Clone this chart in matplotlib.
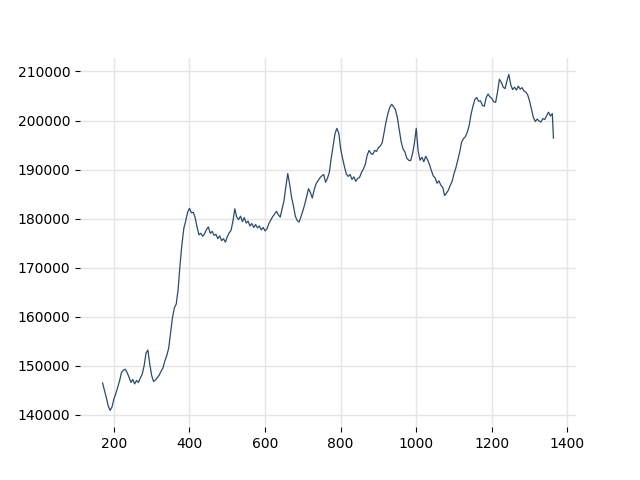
import matplotlib
matplotlib.use("Agg")
from matplotlib import pyplot as plt

# sample positions (every 5 units) plus the final point
x_vals = list(range(170, 1361, 5)) + [1363]

y_vals = [
    146500, 145000, 143500, 141800, 140900, 141600, 143200, 144300, 145600, 146900,
    148600, 149100, 149300, 148600, 147700, 146600, 147200, 146300, 147000, 146600,
    147500, 148300, 150000, 152600, 153200, 150300, 148000, 146800, 147100, 147600,
    148100, 148900, 149600, 151000, 152100, 153600, 156700, 159800, 161800, 162600,
    165600, 170600, 174700, 178000, 179500, 181300, 182100, 181200, 181300, 180200,
    178300, 176700, 177000, 176400, 176900, 177800, 178300, 177000, 177400, 176600,
    176800, 175900, 176500, 175500, 175900, 175200, 176300, 177100, 177600, 179500,
    182000, 180300, 179800, 180500, 179400, 180200, 179100, 179500, 178500, 179000,
    178200, 178800, 178100, 178500, 177700, 178200, 177500, 177900, 179000, 179700,
    180400, 180900, 181500, 180800, 180300, 182000, 183600, 186500, 189200, 187000,
    184400, 182600, 180500, 179600, 179300, 180400, 181600, 182900, 184500, 186100,
    185300, 184200, 185900, 187100, 187700, 188300, 188700, 189000, 187400, 188200,
    189400, 192300, 194800, 197300, 198400, 197400, 194200, 192300, 190600, 189100,
    188600, 189000, 188000, 188500, 187600, 188200, 188400, 189400, 190100, 191000,
    192900, 193900, 193300, 193100, 193900, 193700, 194500, 194800, 195500, 197600,
    199700, 201400, 202700, 203300, 202800, 202200, 200600, 198100, 195700, 194200,
    193600, 192300, 191900, 191800, 193200, 195300, 198400, 193800, 191900, 192500,
    191600, 192700, 192000, 191000, 189800, 188700, 188300, 187200, 187700, 186800,
    186400, 184700, 185200, 185800, 186800, 187600, 189200, 190400, 192000, 193600,
    195600, 196300, 196700, 197600, 199000, 201300, 202900, 204300, 204700, 203900,
    204000, 203100, 202900, 204700, 205400, 204800, 204500, 203800, 203700, 205800,
    208400, 207800, 206800, 206500, 208100, 209400, 207300, 206300, 206800, 206200,
    207000, 206400, 206700, 206000, 205800, 205200, 203900, 202200, 200600, 199800,
    200300, 199900, 199700, 200400, 200200, 201000, 201700, 200900, 201400, 196400,
]


def main():
    fig, ax = plt.subplots(figsize=(6.4, 4.8), dpi=100)
    ax.plot(x_vals, y_vals, color="#2c4a6e", linewidth=0.9)

    ax.grid(color="#e5e5e5", linewidth=1)
    ax.set_axisbelow(True)
    for side in ["top", "right", "bottom", "left"]:
        ax.spines[side].set_visible(False)
    ax.tick_params(length=3.5, width=0.8)

    fig.savefig("out.png")


if __name__ == "__main__":
    main()
